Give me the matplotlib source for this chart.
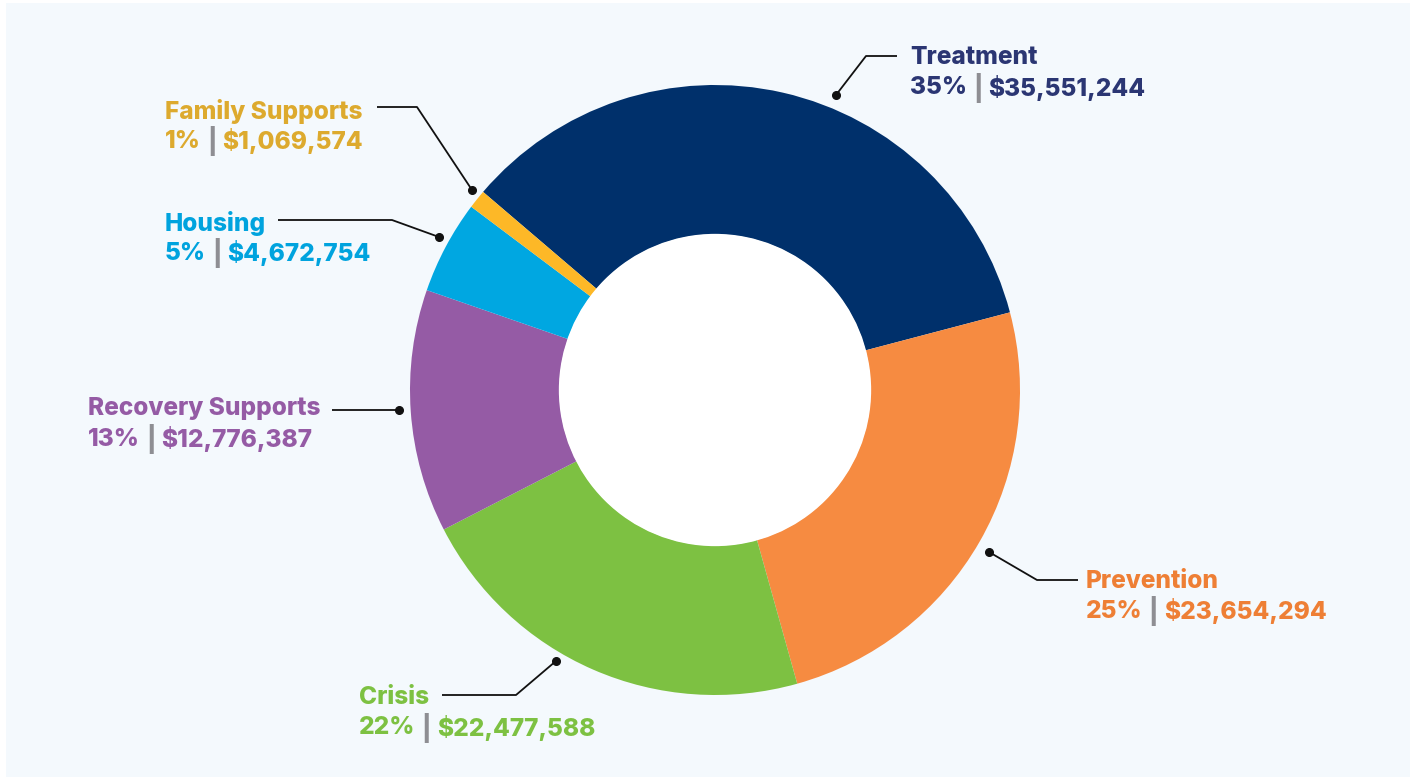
import matplotlib
matplotlib.use("Agg")
import matplotlib.pyplot as plt
from matplotlib.patches import Circle

# dados do grafico
categorias = ["Treatment", "Prevention", "Crisis", "Recovery Supports", "Housing", "Family Supports"]
percentuais = [35, 25, 22, 13, 5, 1]
valores = [35551244, 23654294, 22477588, 12776387, 4672754, 1069574]
coresFatias = ["#00306B", "#F68B41", "#7DC142", "#955BA5", "#00A7E1", "#FDB827"]
coresTexto = ["#2B3673", "#EE7F35", "#7DC142", "#955BA5", "#00A3DE", "#DDAA2E"]

# posicoes dos rotulos (pixels): texto, ponto na fatia, cotovelo e fim da linha
posTexto = [(910, 58), (1086, 581), (359, 698), (88, 409), (165, 223), (165, 111)]
linhas = [
    [(836, 95), (866, 56), (897, 56)],
    [(989, 552), (1037, 580), (1078, 580)],
    [(556, 661), (516, 695), (442, 695)],
    [(399, 410), (332, 410)],
    [(439, 237), (392, 220), (278, 220)],
    [(472, 190), (417, 107), (377, 107)],
]

L, A = 1410, 777
fig = plt.figure(figsize=(L / 100, A / 100), dpi=100, facecolor="white")

# painel azul claro de fundo
axFundo = fig.add_axes([6 / L, 0, 1 - 6 / L, 1 - 3 / A], zorder=0)
axFundo.set_facecolor("#F4F9FD")
axFundo.set_xticks([])
axFundo.set_yticks([])
for s in axFundo.spines.values():
    s.set_visible(False)

cx, cy, raio = 715, 390, 305
ax = fig.add_axes([(cx - raio) / L, (A - cy - raio) / A, 2 * raio / L, 2 * raio / A], zorder=1)
ax.pie(percentuais, colors=coresFatias, startangle=139.5, counterclock=False,
       radius=1, wedgeprops=dict(width=0.49, linewidth=0))
ax.add_patch(Circle((0, 0), 0.512, facecolor="white", edgecolor="none"))
ax.set_xlim(-1, 1)
ax.set_ylim(-1, 1)
ax.set_aspect("equal")
ax.axis("off")

# eixo por cima em pixels para os rotulos
ax2 = fig.add_axes([0, 0, 1, 1], zorder=2)
ax2.set_xlim(0, L)
ax2.set_ylim(A, 0)
ax2.axis("off")

fonte = dict(family="Inter", fontweight=800, fontsize=17.6, va="center", ha="left")
renderer = fig.canvas.get_renderer()
inv = ax2.transData.inverted()


def proximoX(texto, folga=6):
    bb = texto.get_window_extent(renderer)
    return inv.transform((bb.x1 + folga, 0))[0]


for i in range(len(categorias)):
    pts = linhas[i]
    xs = [p[0] for p in pts]
    ys = [p[1] for p in pts]
    ax2.plot(xs, ys, color="#111111", lw=1.3, solid_capstyle="butt")
    ax2.plot(xs[0], ys[0], "o", color="#111111", ms=5.5)

    x, y = posTexto[i]
    ax2.text(x, y, categorias[i], color=coresTexto[i], **fonte)

    # segunda linha: percentual | valor
    t1 = ax2.text(x, y + 30, f"{percentuais[i]}%", color=coresTexto[i], **fonte)
    t2 = ax2.text(proximoX(t1), y + 30, "|", color="#8E8E93", **fonte)
    ax2.text(proximoX(t2), y + 30, f"${valores[i]:,}", color=coresTexto[i], **fonte)

fig.savefig("out.png", dpi=100, facecolor=fig.get_facecolor())
